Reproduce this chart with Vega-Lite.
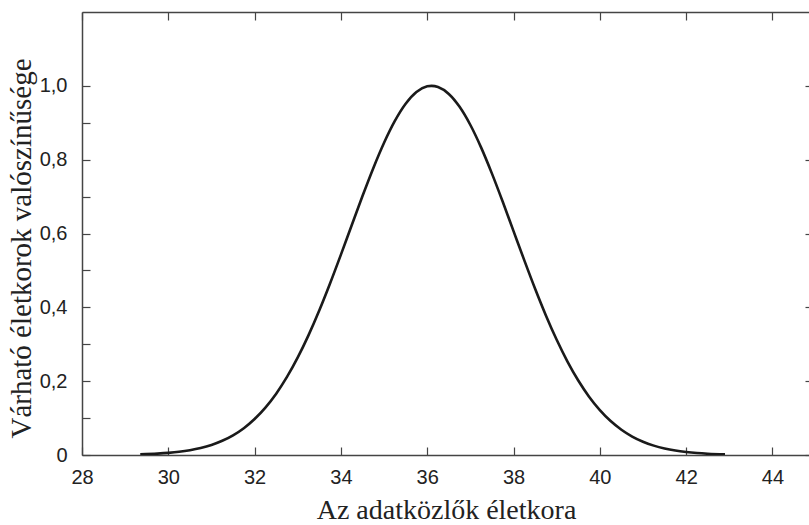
{
  "$schema": "https://vega.github.io/schema/vega-lite/v6.json",
  "autosize": {"type": "none"},
  "width": 728,
  "height": 443,
  "padding": {"left": 82, "top": 12, "right": 0, "bottom": 70},
  "background": "white",
  "config": {
    "view": {"stroke": null},
    "axis": {
      "grid": false,
      "domainColor": "#444444",
      "domainWidth": 1.5,
      "tickColor": "#444444",
      "tickWidth": 1.2,
      "labelFont": "Liberation Sans",
      "labelFontSize": 20,
      "labelColor": "#222222",
      "titleFont": "Liberation Serif",
      "titleFontSize": 28,
      "titleFontWeight": "normal",
      "titleColor": "#222222"
    }
  },
  "data": {
    "values": [
      {"age": 29.35, "p": 0.0018},
      {"age": 29.75, "p": 0.0038},
      {"age": 30.0, "p": 0.0058},
      {"age": 30.25, "p": 0.0087},
      {"age": 30.5, "p": 0.013},
      {"age": 30.75, "p": 0.019},
      {"age": 31.0, "p": 0.0273},
      {"age": 31.25, "p": 0.0385},
      {"age": 31.5, "p": 0.0533},
      {"age": 31.75, "p": 0.0727},
      {"age": 32.0, "p": 0.0975},
      {"age": 32.25, "p": 0.1284},
      {"age": 32.5, "p": 0.1661},
      {"age": 32.75, "p": 0.2114},
      {"age": 33.0, "p": 0.2642},
      {"age": 33.25, "p": 0.3247},
      {"age": 33.5, "p": 0.3921},
      {"age": 33.75, "p": 0.4654},
      {"age": 34.0, "p": 0.5429},
      {"age": 34.25, "p": 0.6225},
      {"age": 34.5, "p": 0.7014},
      {"age": 34.75, "p": 0.7769},
      {"age": 35.0, "p": 0.8457},
      {"age": 35.25, "p": 0.9048},
      {"age": 35.5, "p": 0.9514},
      {"age": 35.75, "p": 0.9832},
      {"age": 36.0, "p": 0.9986},
      {"age": 36.1, "p": 1.0},
      {"age": 36.25, "p": 0.9969},
      {"age": 36.5, "p": 0.9781},
      {"age": 36.75, "p": 0.9432},
      {"age": 37.0, "p": 0.8939},
      {"age": 37.25, "p": 0.8326},
      {"age": 37.5, "p": 0.7622},
      {"age": 37.75, "p": 0.6859},
      {"age": 38.0, "p": 0.6065},
      {"age": 38.25, "p": 0.5272},
      {"age": 38.5, "p": 0.4503},
      {"age": 38.75, "p": 0.3781},
      {"age": 39.0, "p": 0.312},
      {"age": 39.25, "p": 0.253},
      {"age": 39.5, "p": 0.2017},
      {"age": 39.75, "p": 0.158},
      {"age": 40.0, "p": 0.1217},
      {"age": 40.25, "p": 0.092},
      {"age": 40.5, "p": 0.0685},
      {"age": 40.75, "p": 0.05},
      {"age": 41.0, "p": 0.0359},
      {"age": 41.25, "p": 0.0254},
      {"age": 41.5, "p": 0.0176},
      {"age": 41.75, "p": 0.012},
      {"age": 42.0, "p": 0.0081},
      {"age": 42.25, "p": 0.0053},
      {"age": 42.5, "p": 0.0034},
      {"age": 42.9, "p": 0.0017}
    ]
  },
  "layer": [
    {
      "mark": {"type": "line", "color": "#1a1a1a", "strokeWidth": 2.6, "interpolate": "monotone", "clip": true},
      "encoding": {
        "x": {
          "field": "age", "type": "quantitative",
          "scale": {"domain": [28, 44.87], "nice": false, "zero": false},
          "axis": {
            "orient": "bottom",
            "title": "Az adatközlők életkora",
            "values": [28, 30, 32, 34, 36, 38, 40, 42, 44],
            "tickSize": -8,
            "labelPadding": 20,
            "labelFlush": false,
            "titleAnchor": "middle",
            "titleBaseline": "alphabetic",
            "titleY": 63
          }
        },
        "y": {
          "field": "p", "type": "quantitative",
          "scale": {"domain": [0, 1.2], "nice": false},
          "axis": {
            "orient": "left",
            "title": "Várható életkorok valószínűsége",
            "titleFontSize": 29,
            "values": [0, 0.1, 0.2, 0.3, 0.4, 0.5, 0.6, 0.7, 0.8, 0.9, 1.0],
            "tickSize": -8,
            "labelPadding": 23,
            "labelFlush": false,
            "labelExpr": "datum.value == 0 ? '0' : (round(datum.value * 10) % 2 == 0 ? replace(format(datum.value, '.1f'), '.', ',') : '')",
            "titleAnchor": "middle",
            "titleY": 236,
            "titleX": -61,
            "titleAngle": -90,
            "titleAlign": "center",
            "titleBaseline": "middle"
          }
        }
      }
    },
    {
      "mark": {"type": "line", "opacity": 0, "clip": true},
      "encoding": {
        "x": {
          "field": "age", "type": "quantitative",
          "axis": {
            "orient": "top",
            "title": null,
            "labels": false,
            "values": [28, 30, 32, 34, 36, 38, 40, 42, 44],
            "tickSize": -8
          }
        },
        "y": {
          "field": "p", "type": "quantitative",
          "axis": {
            "orient": "right",
            "title": null,
            "labels": false,
            "values": [0, 0.2, 0.4, 0.6, 0.8, 1.0],
            "tickSize": -5
          }
        }
      }
    }
  ],
  "resolve": {"axis": {"x": "independent", "y": "independent"}}
}
